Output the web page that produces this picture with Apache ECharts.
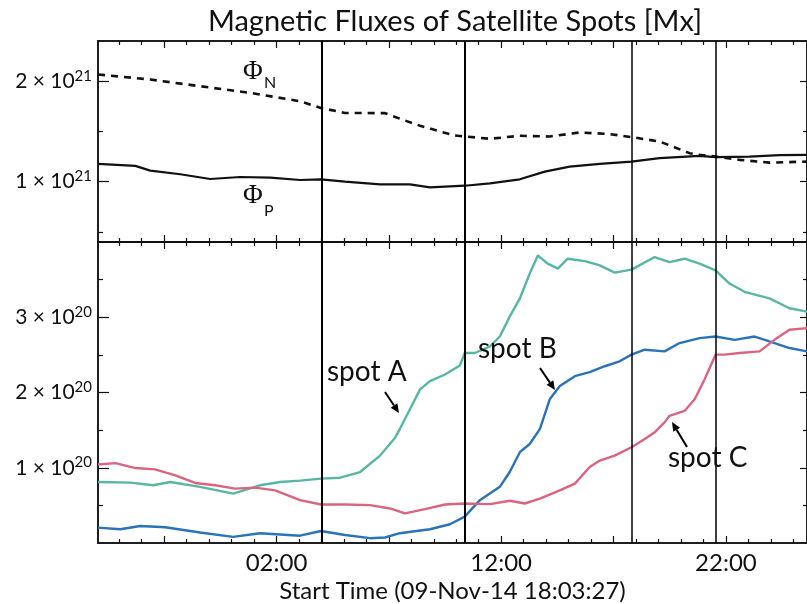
<!DOCTYPE html>
<html>
<head>
<meta charset="utf-8">
<script src="https://cdn.jsdelivr.net/npm/echarts@6/dist/echarts.min.js"></script>
<style>
html,body{margin:0;padding:0;background:#fff;}
#chart{width:807px;height:604px;}
</style>
</head>
<body>
<div id="chart"></div>
<script>
// Time is measured in hours from 00:00 on 09-Nov-14; values above 24 fall on 10-Nov.
const startHour = 18 + 3 / 60 + 27 / 3600;   // 18:03:27
const endHour = 49.61;

// Total negative flux, units of 1e21 Mx
const phiNTime = [18.06, 20.38, 22.60, 24.83, 26.60, 27.05, 27.98, 29.05, 30.83, 31.49, 32.39, 33.28, 33.94, 34.38, 35.50, 36.83, 38.16, 39.50, 40.83, 41.80, 43.05, 44.38, 44.83, 45.54, 46.61, 47.94, 49.61];
const phiNVal  = [2.067, 2.017, 1.95, 1.884, 1.817, 1.80, 1.734, 1.684, 1.682, 1.627, 1.557, 1.50, 1.46, 1.45, 1.427, 1.457, 1.45, 1.49, 1.474, 1.444, 1.40, 1.284, 1.267, 1.25, 1.217, 1.19, 1.20];

// Total positive flux, units of 1e21 Mx
const phiPTime = [18.06, 19.72, 20.38, 21.72, 23.05, 24.38, 25.72, 27.05, 27.98, 29.05, 30.61, 31.94, 32.83, 34.38, 35.50, 36.83, 37.94, 39.05, 40.39, 41.80, 43.05, 44.83, 45.54, 47.05, 48.39, 49.61];
const phiPVal  = [1.177, 1.157, 1.11, 1.074, 1.027, 1.047, 1.04, 1.017, 1.024, 1.00, 0.974, 0.974, 0.944, 0.96, 0.984, 1.024, 1.10, 1.15, 1.177, 1.20, 1.234, 1.257, 1.244, 1.25, 1.264, 1.267];

// Satellite spot fluxes, units of 1e20 Mx
const spotATime = [18.06, 19.49, 20.52, 21.27, 22.60, 24.07, 25.27, 26.16, 27.05, 27.98, 28.83, 29.72, 30.61, 31.27, 31.49, 31.94, 32.39, 32.83, 33.50, 34.16, 34.38, 34.83, 35.50, 35.94, 36.38, 36.83, 37.27, 37.63, 38.07, 38.52, 38.96, 39.72, 40.39, 41.05, 41.80, 42.83, 43.49, 44.16, 44.83, 45.54, 46.16, 46.83, 47.94, 48.83, 49.61];
const spotAVal  = [0.811, 0.802, 0.767, 0.811, 0.746, 0.657, 0.767, 0.811, 0.829, 0.855, 0.868, 0.943, 1.162, 1.396, 1.514, 1.778, 2.042, 2.151, 2.239, 2.358, 2.525, 2.525, 2.612, 2.744, 3.008, 3.25, 3.58, 3.82, 3.712, 3.646, 3.778, 3.746, 3.69, 3.593, 3.633, 3.80, 3.733, 3.778, 3.712, 3.624, 3.448, 3.338, 3.25, 3.119, 3.074];

const spotBTime = [18.06, 19.05, 19.94, 21.05, 22.60, 24.07, 25.27, 27.05, 27.98, 29.05, 30.16, 30.83, 31.49, 32.83, 33.72, 34.38, 35.05, 35.94, 36.38, 36.83, 37.27, 37.72, 38.16, 38.61, 39.28, 39.94, 40.61, 41.27, 41.80, 42.39, 43.27, 43.94, 44.83, 45.54, 46.39, 47.28, 47.94, 48.83, 49.61];
const spotBVal  = [0.205, 0.183, 0.226, 0.209, 0.139, 0.081, 0.130, 0.097, 0.160, 0.107, 0.064, 0.073, 0.130, 0.183, 0.249, 0.35, 0.569, 0.746, 0.943, 1.207, 1.316, 1.514, 1.91, 2.085, 2.217, 2.27, 2.349, 2.415, 2.503, 2.569, 2.546, 2.657, 2.723, 2.744, 2.70, 2.744, 2.678, 2.591, 2.546];

const spotCTime = [18.06, 18.83, 19.72, 20.60, 21.50, 22.38, 23.27, 24.16, 25.05, 25.94, 27.05, 27.98, 29.05, 30.16, 31.05, 31.72, 32.61, 33.50, 34.38, 35.50, 36.39, 37.05, 37.72, 38.61, 39.28, 39.94, 40.39, 41.05, 41.80, 42.39, 42.83, 43.27, 43.49, 44.16, 44.61, 45.05, 45.54, 45.94, 46.61, 47.50, 48.16, 48.83, 49.61];
const spotCVal  = [1.044, 1.062, 0.996, 0.978, 0.898, 0.798, 0.767, 0.723, 0.736, 0.70, 0.569, 0.512, 0.512, 0.503, 0.459, 0.394, 0.45, 0.512, 0.525, 0.516, 0.561, 0.525, 0.591, 0.70, 0.789, 1.009, 1.096, 1.162, 1.273, 1.382, 1.471, 1.603, 1.69, 1.755, 1.91, 2.173, 2.503, 2.503, 2.525, 2.546, 2.70, 2.833, 2.855];

// Event times marked by vertical lines through both panels
const eventTimes = [28.01, 34.38, 41.79, 45.57];

// Axis ticks and labels
const hourTicks = [];
for (let h = 19; h <= 49; h++) hourTicks.push(h);
const majorHourTicks = [21, 26, 31, 36, 41, 46];
const minorHourTicks = hourTicks.filter(h => majorHourTicks.indexOf(h) < 0);
const hourLabels = [26, 36, 46];
const topMajorTicks = [1, 2];
const topMinorTicks = [0.5, 1.5];
const bottomMajorTicks = [1, 2, 3];
const bottomMinorTicks = [0.5, 1.5, 2.5, 3.5];

const FONT = 'Lato';
const INK = '#111';
const COLOR_A = '#58b6a2';
const COLOR_B = '#2a73b6';
const COLOR_C = '#da6580';

const pair = (t, v) => t.map((x, i) => [x, v[i]]);

function xAx(grid, pos, ticks, len, extra) {
  return Object.assign({
    type: 'value', gridIndex: grid, position: pos, min: startHour, max: endHour,
    axisLine: { show: true, onZero: false, lineStyle: { color: INK, width: 1.5 } },
    axisTick: { show: true, inside: true, length: len, customValues: ticks, lineStyle: { color: INK, width: 1.2 } },
    axisLabel: { show: false },
    splitLine: { show: false }
  }, extra || {});
}
function yAx(grid, pos, min, max, ticks, len, extra) {
  return Object.assign({
    type: 'value', gridIndex: grid, position: pos, min: min, max: max,
    axisLine: { show: true, onZero: false, lineStyle: { color: INK, width: 1.5 } },
    axisTick: { show: true, inside: true, length: len, customValues: ticks, lineStyle: { color: INK, width: 1.2 } },
    axisLabel: { show: false },
    splitLine: { show: false }
  }, extra || {});
}

const sciRich = {
  m: { fontFamily: FONT, fontSize: 21, color: INK, lineHeight: 26 },
  s: { fontFamily: FONT, fontSize: 15, color: INK, lineHeight: 15, verticalAlign: 'top' }
};
const sciLabel = (exp, ticks) => ({
  show: true, customValues: ticks, margin: 6,
  formatter: v => '{m|' + v + ' \u00d7 10}{s|' + exp + '}',
  rich: sciRich
});
const clock = h => String(h % 24).padStart(2, '0') + ':00';

const xAxes = [
  xAx(0, 'bottom', minorHourTicks, 4),
  xAx(0, 'bottom', majorHourTicks, 7),
  xAx(0, 'top', minorHourTicks, 4),
  xAx(0, 'top', majorHourTicks, 7),
  xAx(1, 'bottom', minorHourTicks, 4, {
    axisLabel: { show: true, customValues: hourLabels, margin: 8, formatter: clock,
      fontFamily: FONT, fontSize: 24, color: INK },
    name: 'Start Time (09-Nov-14 18:03:27)', nameLocation: 'middle', nameGap: 36,
    nameTextStyle: { fontFamily: FONT, fontSize: 24, color: INK }
  }),
  xAx(1, 'bottom', majorHourTicks, 7),
  xAx(1, 'top', minorHourTicks, 4),
  xAx(1, 'top', majorHourTicks, 7)
];
const yAxes = [
  yAx(0, 'left', 0.4, 2.4, topMinorTicks, 5, { axisLabel: sciLabel(21, topMajorTicks) }),
  yAx(0, 'left', 0.4, 2.4, topMajorTicks, 11),
  yAx(0, 'right', 0.4, 2.4, topMinorTicks, 4),
  yAx(0, 'right', 0.4, 2.4, topMajorTicks, 7),
  yAx(1, 'left', 0, 4, bottomMinorTicks, 5, { axisLabel: sciLabel(20, bottomMajorTicks) }),
  yAx(1, 'left', 0, 4, bottomMajorTicks, 11),
  yAx(1, 'right', 0, 4, bottomMinorTicks, 4),
  yAx(1, 'right', 0, 4, bottomMajorTicks, 7)
];

const eventLines = {
  silent: true, symbol: ['none', 'none'], label: { show: false },
  emphasis: { disabled: true },
  lineStyle: { color: '#000', type: 'solid', width: 2 },
  data: eventTimes.map((t, i) => ({ xAxis: t, lineStyle: { width: i < 2 ? 2 : 1.5 } }))
};

function lineSeries(name, xi, yi, data, style, extra) {
  return Object.assign({
    name: name, type: 'line', xAxisIndex: xi, yAxisIndex: yi, data: data,
    showSymbol: false, symbol: 'none', lineStyle: style, silent: true
  }, extra || {});
}

const series = [
  lineSeries('PhiN', 0, 0, pair(phiNTime, phiNVal), { color: INK, width: 2.6, type: [7, 6] }),
  lineSeries('PhiP', 0, 0, pair(phiPTime, phiPVal), { color: INK, width: 2.2 }, { markLine: eventLines }),
  lineSeries('spot A', 4, 4, pair(spotATime, spotAVal), { color: COLOR_A, width: 2.4 }, { markLine: eventLines }),
  lineSeries('spot B', 4, 4, pair(spotBTime, spotBVal), { color: COLOR_B, width: 2.4 }),
  lineSeries('spot C', 4, 4, pair(spotCTime, spotCVal), { color: COLOR_C, width: 2.4 })
];

// Arrow pointing from (x1,y1) to the tip (x2,y2)
function arrow(x1, y1, x2, y2) {
  const a = Math.atan2(y2 - y1, x2 - x1), L = 9, W = 4;
  const bx = x2 - L * Math.cos(a), by = y2 - L * Math.sin(a);
  return [
    { type: 'line', shape: { x1: x1, y1: y1, x2: bx, y2: by }, style: { stroke: '#000', lineWidth: 2 } },
    { type: 'polygon', shape: { points: [[x2, y2], [bx + W * Math.sin(a), by - W * Math.cos(a)], [bx - W * Math.sin(a), by + W * Math.cos(a)]] },
      style: { fill: '#000' } }
  ];
}
function label(text, x, y, size, family, align) {
  return { type: 'text', x: x, y: y, z: 10,
    style: { text: text, fill: INK, fontFamily: family || FONT, fontSize: size,
      textAlign: align || 'left', textVerticalAlign: 'middle' } };
}

const graphics = [
  label('Magnetic Fluxes of Satellite Spots [Mx]', 455, 22, 29, FONT, 'center'),
  label('\u03a6', 243, 72, 27, 'Liberation Serif'),
  label('N', 264, 83, 16),
  label('\u03a6', 243, 196, 27, 'Liberation Serif'),
  label('P', 264, 211, 16),
  label('spot A', 327, 372, 28),
  label('spot B', 478, 349, 28),
  label('spot C', 668, 458, 28)
].concat(arrow(385, 392, 399, 413), arrow(540, 368, 555, 390), arrow(687, 447, 672, 422));

const chart = echarts.init(document.getElementById('chart'), null, { renderer: 'canvas' });
chart.setOption({
  animation: false,
  backgroundColor: '#fff',
  grid: [
    { left: 98, top: 41, width: 710, height: 201 },
    { left: 98, top: 242, width: 710, height: 302 }
  ],
  xAxis: xAxes,
  yAxis: yAxes,
  series: series,
  graphic: graphics
});
</script>
</body>
</html>
